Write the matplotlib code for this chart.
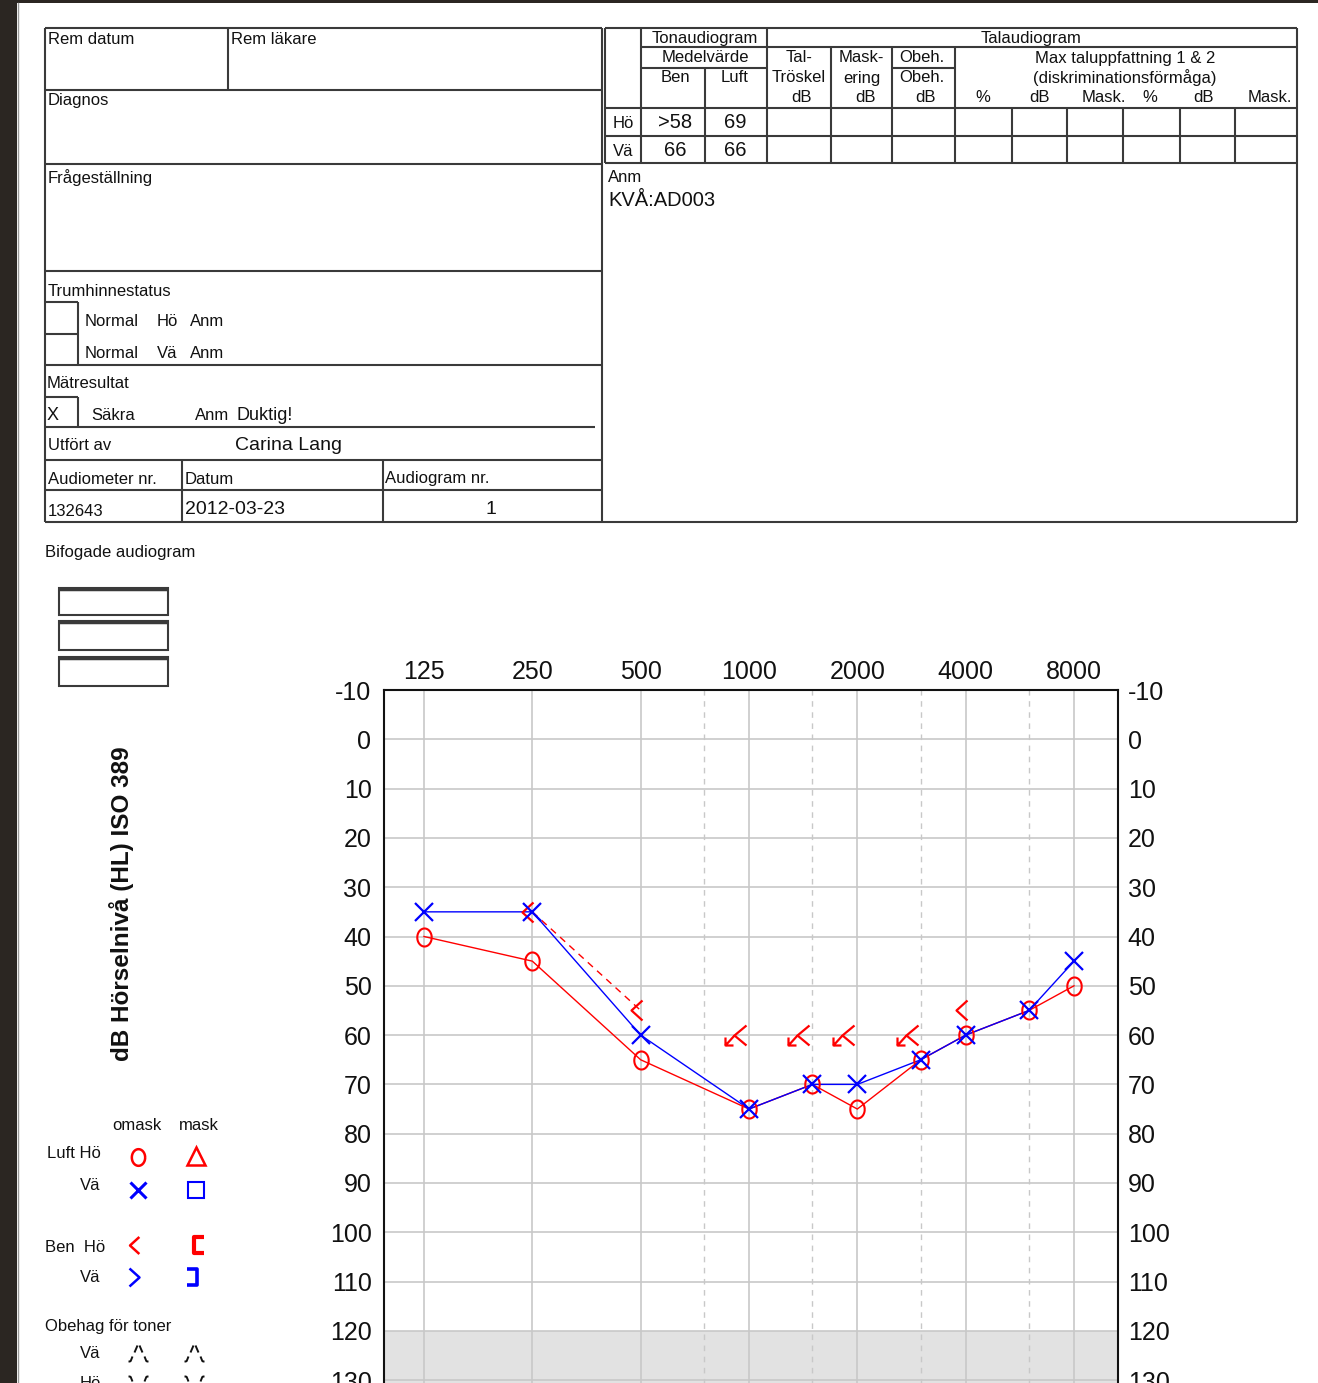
import matplotlib
matplotlib.use("Agg")
import matplotlib.pyplot as plt
import numpy as np
from matplotlib.path import Path
from matplotlib.patches import Rectangle

plt.rcParams['font.family'] = ['Liberation Sans', 'DejaVu Sans']

# ---- audiogram data ----
freqs = [125, 250, 500, 1000, 1500, 2000, 3000, 4000, 6000, 8000]
right_air = [40, 45, 65, 75, 70, 75, 65, 60, 55, 50]
left_air = [35, 35, 60, 75, 70, 70, 65, 60, 55, 45]
bone_freqs = [250, 500, 1000, 1500, 2000, 3000, 4000]
right_bone = [35, 55, 60, 60, 60, 60, 55]
bone_no_resp = [False, False, True, True, True, True, False]

octave_freqs = [125, 250, 500, 1000, 2000, 4000, 8000]
inter_freqs = [750, 1500, 3000, 6000]
db_ticks = list(range(-10, 140, 10))

# ---- header table values ----
ear_labels = ['Hö', 'Vä']
medel_ben = ['>58', '66']
medel_luft = ['69', '66']

RED = '#ff0000'
BLUE = '#0000ff'
LINE = '#3a3a3a'
SMALL = 12


def px_marker(verts_px, codes):
    # verts given in pixels; returns marker path and markersize in points
    v = np.array(verts_px, dtype=float)
    m = np.max(np.abs(v))
    return Path(v, codes), 2 * m * 0.72


M, L = Path.MOVETO, Path.LINETO

fig = plt.figure(figsize=(13.18, 13.83), dpi=100)
doc = fig.add_axes([0, 0, 1, 1], zorder=0)
doc.set_xlim(0, 1318)
doc.set_ylim(1383, 0)
doc.axis('off')

# page edges
doc.add_patch(Rectangle((0, 0), 17, 1383, color='#2b2622', lw=0))
doc.add_patch(Rectangle((0, 0), 1318, 3, color='#2b2622', lw=0))
doc.plot([18, 18], [3, 1383], color='#9a9a9a', lw=1)


def seg(x0, y0, x1, y1, lw=1.5, c=LINE):
    doc.plot([x0, x1], [y0, y1], color=c, lw=lw, solid_capstyle='butt')


def txt(x, y, s, size=SMALL, ha='left', **kw):
    doc.text(x, y, s, fontsize=size, ha=ha, va='center', color='#111111', **kw)


# ---- left header table ----
for y in [28, 90, 164, 271, 365, 460, 490, 522]:
    seg(45, y, 602, y)
seg(45, 427, 595, 427)
seg(45, 28, 45, 522)
seg(602, 28, 602, 522)
seg(228, 28, 228, 90)
seg(45, 302, 78, 302)
seg(45, 334, 78, 334)
seg(78, 302, 78, 365)
seg(45, 397, 78, 397)
seg(78, 397, 78, 427)
seg(182, 460, 182, 522)
seg(383, 460, 383, 522)

txt(48, 39, 'Rem datum')
txt(231, 39, 'Rem läkare')
txt(48, 100, 'Diagnos')
txt(48, 178, 'Frågeställning')
txt(48, 291, 'Trumhinnestatus')
for yy, ear in zip([322, 354], ear_labels):
    txt(85, yy, 'Normal')
    txt(157, yy, ear)
    txt(190, yy, 'Anm')
txt(47, 384, 'Mätresultat')
txt(47, 415, 'X', size=13)
txt(91, 416, 'Säkra')
txt(195, 416, 'Anm')
txt(236, 415, 'Duktig!', size=13)
txt(48, 446, 'Utfört av')
txt(235, 445, 'Carina Lang', size=14)
txt(48, 479, 'Audiometer nr.')
txt(185, 479, 'Datum')
txt(385, 479, 'Audiogram nr.')
txt(48, 511, '132643')
txt(185, 510, '2012-03-23', size=14)
txt(491, 510, '1', size=14, ha='center')

# ---- right header table ----
seg(605, 28, 1297, 28)
seg(641, 47, 1297, 47)
seg(641, 68, 767, 68)
seg(892, 68, 955, 68)
for y in [108, 136, 163]:
    seg(605, y, 1297, y)
seg(602, 522, 1297, 522)
seg(605, 28, 605, 163)
seg(1297, 28, 1297, 522)
seg(641, 28, 641, 163)
seg(767, 28, 767, 163)
seg(705, 68, 705, 163)
for x in [831, 892, 955]:
    seg(x, 47, x, 163)
for x in [1012, 1067, 1123, 1180, 1235]:
    seg(x, 108, x, 163)

txt(705, 38, 'Tonaudiogram', ha='center')
txt(1031, 38, 'Talaudiogram', ha='center')
txt(705, 58, 'Medelvärde', ha='center')
txt(675, 78, 'Ben', ha='center')
txt(735, 78, 'Luft', ha='center')
txt(799, 58, 'Tal-', ha='center')
txt(799, 78, 'Tröskel', ha='center')
txt(801, 98, 'dB', ha='center')
txt(861, 58, 'Mask-', ha='center')
txt(862, 78, 'ering', ha='center')
txt(865, 98, 'dB', ha='center')
txt(922, 58, 'Obeh.', ha='center')
txt(922, 78, 'Obeh.', ha='center')
txt(925, 98, 'dB', ha='center')
txt(1125, 58, 'Max taluppfattning 1 & 2', ha='center')
txt(1125, 78, '(diskriminationsförmåga)', ha='center')
for x, s in zip([983, 1039, 1104, 1150, 1204, 1270],
                ['%', 'dB', 'Mask.', '%', 'dB', 'Mask.']):
    txt(x, 98, s, ha='center')
for yy, ear, b, l in zip([123, 150], ear_labels, medel_ben, medel_luft):
    txt(623, yy + 1, ear, ha='center')
    txt(675, yy, b, size=14.5, ha='center')
    txt(735, yy, l, size=14.5, ha='center')
txt(608, 177, 'Anm')
txt(608, 201, 'KVÅ:AD003', size=14.5)

# ---- attached audiograms ----
txt(45, 552, 'Bifogade audiogram')
for y0, y1 in [(588, 615), (621, 650), (657, 686)]:
    doc.add_patch(Rectangle((59, y0), 109, y1 - y0, fill=False, ec=LINE, lw=1.5))
    seg(59, y0 + 1, 168, y0 + 1, lw=2.5)

# ---- y label ----
doc.text(122, 904, 'dB Hörselnivå (HL) ISO 389', rotation=90, fontsize=17.5,
         fontweight='bold', ha='center', va='center', color='#111111')

# ---- markers ----
th = np.linspace(0, 2 * np.pi, 41)
ell_marker = Path(np.column_stack([0.8 * np.cos(th), np.sin(th)]))
lt_marker, lt_ms = px_marker([(1, 10), (-10, 0), (1, -10)], [M, L, L])
nr_marker, nr_ms = px_marker(
    [(-3, 10), (-15, 0), (-3, -10), (-15, 0), (-24, -10),
     (-24, -2), (-24, -10), (-16, -10)],
    [M, L, L, M, L, M, L, L])

# ---- audiogram axes ----
oct_lo, oct_hi = -0.369, 0.406
ax = fig.add_axes([384 / 1318, 1 - (690 + 150 * 4.93) / 1383,
                   734 / 1318, 150 * 4.93 / 1383], zorder=2)
ax.set_xscale('log', base=2)
ax.set_xlim(125 * 2 ** oct_lo, 8000 * 2 ** oct_hi)
ax.set_ylim(140, -10)
ax.axhspan(120, 140, color='#e2e2e2', lw=0, zorder=0)
for f in octave_freqs:
    ax.axvline(f, color='#c8c8c8', lw=1.2, zorder=1)
for f in inter_freqs:
    ax.axvline(f, color='#c8c8c8', lw=1.0, ls=(0, (4, 4)), zorder=1)
for d in db_ticks[1:]:
    ax.axhline(d, color='#c8c8c8', lw=1.2, zorder=1)

ax.plot(freqs, right_air, color=RED, lw=1, zorder=3)
ax.plot(freqs, left_air, color=BLUE, lw=1, zorder=3)
bone_line = [np.nan if nr else v for v, nr in zip(right_bone, bone_no_resp)]
ax.plot(bone_freqs, bone_line, color=RED, lw=1, ls=(0, (5, 4)), zorder=3)

ax.plot(freqs, right_air, ls='none', marker=ell_marker, ms=13, mfc='none',
        mec=RED, mew=1.5, zorder=4)
ax.plot(freqs, left_air, ls='none', marker='x', ms=13, mec=BLUE, mew=1.6,
        zorder=5)
for f, v, nr in zip(bone_freqs, right_bone, bone_no_resp):
    mk, ms = (nr_marker, nr_ms) if nr else (lt_marker, lt_ms)
    ax.plot([f], [v], ls='none', marker=mk, ms=ms, mfc='none', mec=RED,
            mew=1.6, zorder=4)

ax.xaxis.tick_top()
ax.set_xticks(octave_freqs)
ax.set_xticklabels([str(f) for f in octave_freqs])
ax.xaxis.set_minor_locator(matplotlib.ticker.NullLocator())
ax.set_yticks(db_ticks)
ax.set_yticklabels([str(d) for d in db_ticks])
ax.tick_params(axis='x', length=0, pad=4, labelsize=18, labelcolor='#111111')
ax.tick_params(axis='y', length=0, pad=9, labelsize=18, labelcolor='#111111')
for side in ['left', 'top', 'right']:
    ax.spines[side].set_linewidth(1.5)
    ax.spines[side].set_color('#111111')
ax.spines['bottom'].set_visible(False)

ax2 = ax.twinx()
ax2.set_ylim(140, -10)
ax2.set_yticks(db_ticks)
ax2.set_yticklabels([str(d) for d in db_ticks])
ax2.tick_params(axis='y', length=0, pad=7, labelsize=18, labelcolor='#111111')
for side in ['left', 'top', 'right', 'bottom']:
    ax2.spines[side].set_visible(False)

# ---- symbol legend ----
txt(112, 1126, 'omask')
txt(179, 1126, 'mask')
txt(47, 1154, 'Luft Hö')
txt(80, 1186, 'Vä')
txt(45, 1248, 'Ben  Hö')
txt(80, 1278, 'Vä')
txt(45, 1326, 'Obehag för toner')
txt(80, 1354, 'Vä')
txt(80, 1383, 'Hö')

gt_marker, gt_ms = px_marker([(-5, 9), (5, 0), (-5, -9)], [M, L, L])
lb_marker, lb_ms = px_marker([(5, 8), (-5, 8), (-5, -8), (5, -8)], [M, L, L, L])
rb_marker, rb_ms = px_marker([(-5, 8), (5, 8), (5, -8), (-5, -8)], [M, L, L, L])
up_marker, up_ms = px_marker(
    [(-8, -9), (-6, -4), (-4, 0), (-1, 7), (1, 7), (4, 0), (6, -4), (8, -9),
     (-10, -9), (-8, -9), (8, -9), (10, -9)],
    [M, L, M, L, M, L, M, L, M, L, M, L])
dn_marker = Path(up_marker.vertices * [1, -1], up_marker.codes)

sym = [
    (138, 1157, ell_marker, 12, RED, 1.8),
    (196, 1156, '^', 13, RED, 1.8),
    (138, 1190, 'x', 11, BLUE, 2.2),
    (196, 1190, 's', 12, BLUE, 1.5),
    (138, 1245, lt_marker, lt_ms * 0.85, RED, 1.8),
    (199, 1245, lb_marker, lb_ms, RED, 3.0),
    (134, 1277, gt_marker, gt_ms, BLUE, 1.8),
    (192, 1277, rb_marker, rb_ms, BLUE, 2.6),
    (138, 1352, up_marker, up_ms, '#111111', 1.4),
    (194, 1352, up_marker, up_ms, '#111111', 1.4),
    (138, 1385, dn_marker, up_ms, '#111111', 1.4),
    (194, 1385, dn_marker, up_ms, '#111111', 1.4),
]
for x, y, mk, ms, c, mw in sym:
    doc.plot([x], [y], ls='none', marker=mk, ms=ms, mfc='none', mec=c, mew=mw)

fig.savefig('out.png', dpi=100, facecolor='white')
